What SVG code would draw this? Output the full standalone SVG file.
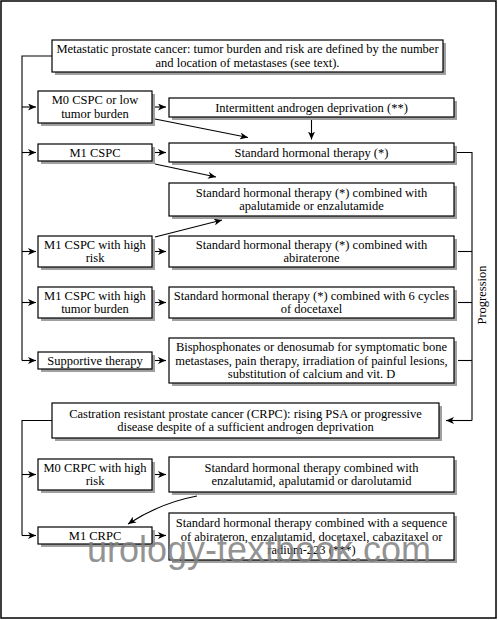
<svg xmlns="http://www.w3.org/2000/svg" width="499" height="620" viewBox="0 0 499 620">
<defs>
<marker id="ah" markerWidth="9" markerHeight="7" refX="8" refY="3.5" orient="auto" markerUnits="userSpaceOnUse">
<path d="M0,0 L8,3.5 L0,7 L2.2,3.5 z" fill="#000"/>
</marker>
<style>
.box{fill:#fff;stroke:#000;stroke-width:1.2}
.sh{fill:#a0a0a0}
.t{font-family:"Liberation Serif","Times New Roman",serif;font-size:12.5px;fill:#000;text-anchor:middle}
.c{fill:none;stroke:#000;stroke-width:1.1}
.a{fill:none;stroke:#000;stroke-width:1.1;marker-end:url(#ah)}
</style>
</defs>
<rect x="0" y="0" width="499" height="620" fill="#fff"/>
<rect x="1" y="1" width="495" height="617" fill="none" stroke="#000" stroke-width="1.5"/>

<g id="connectors">
<path class="c" d="M52,56 H22 V360.5"/>
<path class="a" d="M22,107 H36"/>
<path class="a" d="M22,152.5 H36"/>
<path class="a" d="M22,251.5 H36"/>
<path class="a" d="M22,302.5 H36"/>
<path class="a" d="M22,360.5 H36"/>
<path class="a" d="M155,107 H166"/>
<path class="a" d="M155,152.5 H166"/>
<path class="a" d="M155,251.5 H166"/>
<path class="a" d="M155,302.5 H166"/>
<path class="a" d="M155,360.5 H166"/>
<path class="a" d="M155,119 L248,137.5"/>
<path class="a" d="M311.5,118 V139.5"/>
<path class="a" d="M155,164 L216,177"/>
<path class="a" d="M155,237 L222,220"/>
<path class="c" d="M457,152.5 H472 V420.5"/>
<path class="c" d="M458,251.5 H472"/>
<path class="c" d="M458,302.5 H472"/>
<path class="c" d="M458,360.5 H472"/>
<path class="a" d="M472,420.5 H446"/>
<path class="c" d="M52,420.5 H22 V535.5"/>
<path class="a" d="M22,474.5 H36"/>
<path class="a" d="M22,535.5 H36"/>
<path class="a" d="M155,474.5 H166"/>
<path class="a" d="M155,535.5 H166"/>
<path class="a" d="M197,496 Q160,503 128,524"/>
</g>

<g id="n-top">
<rect class="sh" x="55" y="43" width="391" height="32"/>
<rect class="box" x="52" y="40" width="391" height="32"/>
<text class="t" x="247.5" y="53.3">Metastatic prostate cancer: tumor burden and risk are defined by the number</text>
<text class="t" x="247.5" y="66.8">and location of metastases (see text).</text>
</g>
<g id="n-m0cspc">
<rect class="sh" x="41" y="94" width="114" height="32"/>
<rect class="box" x="38" y="91" width="114" height="32"/>
<text class="t" x="95" y="104.3">M0 CSPC or low</text>
<text class="t" x="95" y="117.8">tumor burden</text>
</g>
<g id="n-intermittent">
<rect class="sh" x="172" y="101" width="285" height="19"/>
<rect class="box" x="169" y="98" width="285" height="19"/>
<text class="t" x="311.5" y="111.5">Intermittent androgen deprivation (**)</text>
</g>
<g id="n-m1cspc">
<rect class="sh" x="41" y="147" width="114" height="17"/>
<rect class="box" x="38" y="144" width="114" height="17"/>
<text class="t" x="95" y="156.5">M1 CSPC</text>
</g>
<g id="n-standard">
<rect class="sh" x="172" y="146" width="285" height="19"/>
<rect class="box" x="169" y="143" width="285" height="19"/>
<text class="t" x="311.5" y="156.5">Standard hormonal therapy (*)</text>
</g>
<g id="n-apal">
<rect class="sh" x="172" y="186" width="285" height="33"/>
<rect class="box" x="169" y="183" width="285" height="33"/>
<text class="t" x="311.5" y="196.8">Standard hormonal therapy (*) combined with</text>
<text class="t" x="311.5" y="210.3">apalutamide or enzalutamide</text>
</g>
<g id="n-m1hr">
<rect class="sh" x="41" y="239" width="114" height="31"/>
<rect class="box" x="38" y="236" width="114" height="31"/>
<text class="t" x="95" y="248.8">M1 CSPC with high</text>
<text class="t" x="95" y="262.3">risk</text>
</g>
<g id="n-abir">
<rect class="sh" x="172" y="239" width="285" height="31"/>
<rect class="box" x="169" y="236" width="285" height="31"/>
<text class="t" x="311.5" y="248.8">Standard hormonal therapy (*) combined with</text>
<text class="t" x="311.5" y="262.3">abiraterone</text>
</g>
<g id="n-m1tb">
<rect class="sh" x="41" y="290" width="114" height="31"/>
<rect class="box" x="38" y="287" width="114" height="31"/>
<text class="t" x="95" y="299.8">M1 CSPC with high</text>
<text class="t" x="95" y="313.3">tumor burden</text>
</g>
<g id="n-doce">
<rect class="sh" x="172" y="290" width="285" height="31"/>
<rect class="box" x="169" y="287" width="285" height="31"/>
<text class="t" x="311.5" y="299.8">Standard hormonal therapy (*) combined with 6 cycles</text>
<text class="t" x="311.5" y="313.3">of docetaxel</text>
</g>
<g id="n-supp">
<rect class="sh" x="41" y="355" width="114" height="17"/>
<rect class="box" x="38" y="352" width="114" height="17"/>
<text class="t" x="95" y="364.5">Supportive therapy</text>
</g>
<g id="n-bisp">
<rect class="sh" x="172" y="341" width="285" height="45"/>
<rect class="box" x="169" y="338" width="285" height="45"/>
<text class="t" x="311.5" y="351">Bisphosphonates or denosumab for symptomatic bone</text>
<text class="t" x="311.5" y="364.5">metastases, pain therapy, irradiation of painful lesions,</text>
<text class="t" x="311.5" y="378">substitution of calcium and vit. D</text>
</g>
<g id="n-progression">
<text class="t" transform="translate(486,295) rotate(-90)">Progression</text>
</g>
<g id="n-crpc">
<rect class="sh" x="55" y="406" width="387" height="35"/>
<rect class="box" x="52" y="403" width="387" height="35"/>
<text class="t" x="245.5" y="417.8">Castration resistant prostate cancer (CRPC): rising PSA or progressive</text>
<text class="t" x="245.5" y="431.3">disease despite of a sufficient androgen deprivation</text>
</g>
<g id="n-m0crpc">
<rect class="sh" x="41" y="462" width="114" height="31"/>
<rect class="box" x="38" y="459" width="114" height="31"/>
<text class="t" x="95" y="471.8">M0 CRPC with high</text>
<text class="t" x="95" y="485.3">risk</text>
</g>
<g id="n-enz">
<rect class="sh" x="172" y="460" width="285" height="35"/>
<rect class="box" x="169" y="457" width="285" height="35"/>
<text class="t" x="311.5" y="471.8">Standard hormonal therapy combined with</text>
<text class="t" x="311.5" y="485.3">enzalutamid, apalutamid or darolutamid</text>
</g>
<g id="n-m1crpc">
<rect class="sh" x="41" y="530" width="114" height="17"/>
<rect class="box" x="38" y="527" width="114" height="17"/>
<text class="t" x="95" y="539.5">M1 CRPC</text>
</g>
<g id="n-seq">
<rect class="sh" x="172" y="516" width="285" height="47"/>
<rect class="box" x="169" y="513" width="285" height="47"/>
<text class="t" x="311.5" y="527">Standard hormonal therapy combined with a sequence</text>
<text class="t" x="311.5" y="540.5">of abirateron, enzalutamid, docetaxel, cabazitaxel or</text>
<text class="t" x="311.5" y="554">radium-223 (***)</text>
</g>
<text x="259" y="562" font-family="Liberation Sans, Arial, sans-serif" font-size="36" fill="#808080" fill-opacity="0.85" text-anchor="middle">urology-textbook.com</text>
</svg>
